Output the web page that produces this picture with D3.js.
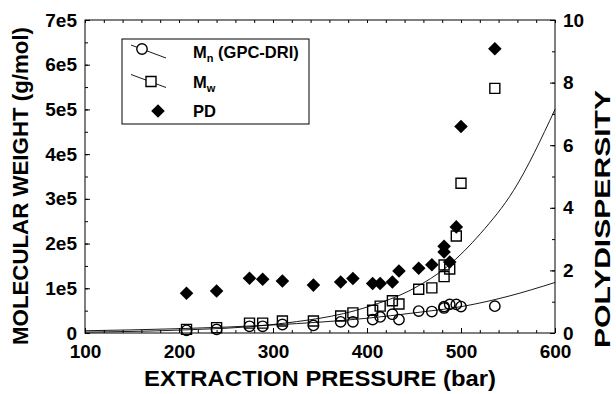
<!DOCTYPE html>
<html>
<head>
	<meta charset="utf-8">
	<title>Molecular weight vs extraction pressure</title>
	<style type="text/css">
		body {
			margin: 0;
			background: #fff;
		}
		svg text {
			font-family: "Liberation Sans", Arial, Helvetica, sans-serif;
			font-weight: bold;
			fill: #000;
		}
		.tick line, .frame {
			stroke: #000;
		}
	</style>
</head>
<body>
<svg id="chart"></svg>
<script src="https://d3js.org/d3.v7.min.js"></script>
<script type="text/javascript">

	// measured points (pressure in bar, MW in g/mol)
	var pressure = [208, 240, 275, 289, 310, 343, 372, 385, 406, 414, 427, 434, 455, 469, 482, 482, 488, 495, 500, 536];
	var mw = [8000, 12000, 22000, 22000, 27000, 27000, 38000, 45000, 51000, 60000, 72000, 65000, 98000, 101000, 152000, 126000, 143000, 217000, 335000, 547000];
	var mn = [6000, 8000, 15000, 15000, 19000, 17000, 25000, 25000, 30000, 36000, 42000, 30000, 49000, 48000, 56000, 59000, 64000, 64000, 59000, 60000];
	var pd = [1.27, 1.34, 1.75, 1.72, 1.66, 1.53, 1.63, 1.74, 1.58, 1.58, 1.63, 1.98, 2.07, 2.18, 2.77, 2.59, 2.27, 3.39, 6.6, 9.08];

	// fitted curves
	var mwFitP = [100, 200, 300, 400, 450, 485, 521, 556, 600];
	var mwFitV = [2000, 6500, 19000, 58000, 100000, 148000, 223000, 319000, 500000];
	var mnFitP = [100, 200, 300, 400, 450, 503, 550, 600];
	var mnFitV = [5000, 9700, 18000, 33000, 45000, 60000, 82000, 113000];

	var xTicks = [100, 200, 300, 400, 500, 600];
	var leftTicks = [0, 100000, 200000, 300000, 400000, 500000, 600000, 700000];
	var leftLabels = ["0", "1e5", "2e5", "3e5", "4e5", "5e5", "6e5", "7e5"];
	var rightTicks = [0, 2, 4, 6, 8, 10];

	var legendItems = [
		{name: "M", sub: "n", rest: " (GPC-DRI)", type: "circle"},
		{name: "M", sub: "w", rest: "", type: "square"},
		{name: "PD", sub: "", rest: "", type: "diamond"}
	];

	var W = 616, H = 394;
	var margin = {top: 20, right: 61, bottom: 61, left: 85};

	var svg = d3.select("#chart")
		.attr("width", W)
		.attr("height", H);

	var x = d3.scaleLinear().domain([100, 600]).range([margin.left, W - margin.right]);
	var yL = d3.scaleLinear().domain([0, 700000]).range([H - margin.bottom, margin.top]);
	var yR = d3.scaleLinear().domain([0, 10]).range([H - margin.bottom, margin.top]);

	var x0 = x.range()[0], x1 = x.range()[1], y0 = yL.range()[0], y1 = yL.range()[1];

	// minor ticks
	var minorX = d3.range(100, 601, 20);
	var minorL = d3.range(0, 700001, 50000);
	var minorR = d3.range(0, 11, 1);

	svg.append("g").attr("transform", "translate(0," + y0 + ")")
		.call(d3.axisBottom(x).tickValues(minorX).tickSize(-3).tickFormat(""));
	svg.append("g").attr("transform", "translate(0," + y1 + ")")
		.call(d3.axisTop(x).tickValues(minorX).tickSize(-3).tickFormat(""));
	svg.append("g").attr("transform", "translate(" + x0 + ",0)")
		.call(d3.axisLeft(yL).tickValues(minorL).tickSize(-3).tickFormat(""));
	svg.append("g").attr("transform", "translate(" + x1 + ",0)")
		.call(d3.axisRight(yR).tickValues(minorR).tickSize(-3).tickFormat(""));

	// major ticks with labels
	svg.append("g").attr("class", "xaxis").attr("transform", "translate(0," + y0 + ")")
		.call(d3.axisBottom(x).tickValues(xTicks).tickSize(-5).tickPadding(12).tickFormat(d3.format("d")));
	svg.append("g").attr("class", "laxis").attr("transform", "translate(" + x0 + ",0)")
		.call(d3.axisLeft(yL).tickValues(leftTicks).tickSize(-5).tickPadding(8)
			.tickFormat(function(d, i) { return leftLabels[i]; }));
	svg.append("g").attr("class", "raxis").attr("transform", "translate(" + x1 + ",0)")
		.call(d3.axisRight(yR).tickValues(rightTicks).tickSize(-5).tickPadding(8).tickFormat(d3.format("d")));

	svg.selectAll(".domain").remove();
	svg.selectAll(".tick text").style("font-size", "19px").style("font-family", null);

	// frame
	svg.append("rect").attr("class", "frame")
		.attr("x", x0).attr("y", y1)
		.attr("width", x1 - x0).attr("height", y0 - y1)
		.attr("fill", "none").attr("stroke-width", 1);

	// fit curves
	var line = d3.line().curve(d3.curveMonotoneX)
		.x(function(d) { return x(d[0]); })
		.y(function(d) { return yL(d[1]); });

	svg.append("path").datum(d3.zip(mwFitP, mwFitV))
		.attr("d", line).attr("fill", "none").attr("stroke", "#000").attr("stroke-width", 0.9);
	svg.append("path").datum(d3.zip(mnFitP, mnFitV))
		.attr("d", line).attr("fill", "none").attr("stroke", "#000").attr("stroke-width", 0.9);

	var pts = pressure.map(function(p, i) { return {p: p, mw: mw[i], mn: mn[i], pd: pd[i]}; });

	var squareSym = d3.symbol().type(d3.symbolSquare).size(100);
	var diamondSym = d3.symbol().type(d3.symbolSquare).size(92);

	svg.append("g").selectAll("path")
		.data(pts)
		.enter().append("path")
		.attr("d", squareSym)
		.attr("transform", function(d) { return "translate(" + x(d.p) + "," + yL(d.mw) + ")"; })
		.attr("fill", "none").attr("stroke", "#000").attr("stroke-width", 1.4);

	svg.append("g").selectAll("circle")
		.data(pts)
		.enter().append("circle")
		.attr("cx", function(d) { return x(d.p); })
		.attr("cy", function(d) { return yL(d.mn); })
		.attr("r", 5.2)
		.attr("fill", "none").attr("stroke", "#000").attr("stroke-width", 1.4);

	svg.append("g").selectAll("path")
		.data(pts)
		.enter().append("path")
		.attr("d", diamondSym)
		.attr("transform", function(d) { return "translate(" + x(d.p) + "," + yR(d.pd) + ") rotate(45)"; })
		.attr("fill", "#000");

	// legend
	var lg = svg.append("g").attr("class", "legend");
	lg.append("rect")
		.attr("x", 122).attr("y", 39).attr("width", 187).attr("height", 85)
		.attr("fill", "#fff").attr("stroke", "#000").attr("stroke-width", 1);

	var row = lg.selectAll("g.row")
		.data(legendItems)
		.enter().append("g").attr("class", "row")
		.attr("transform", function(d, i) { return "translate(0," + (53 + i * 29.5) + ")"; });

	row.filter(function(d) { return d.type != "diamond"; })
		.append("line")
		.attr("x1", 131).attr("y1", -8).attr("x2", 166).attr("y2", 5)
		.attr("stroke", "#000").attr("stroke-width", 0.9);

	row.filter(function(d) { return d.type == "circle"; })
		.append("circle").attr("cx", 142).attr("cy", -4).attr("r", 5.2)
		.attr("fill", "#fff").attr("stroke", "#000").attr("stroke-width", 1.4);
	row.filter(function(d) { return d.type == "square"; })
		.append("path").attr("d", squareSym)
		.attr("transform", "translate(151,-1)")
		.attr("fill", "#fff").attr("stroke", "#000").attr("stroke-width", 1.4);
	row.filter(function(d) { return d.type == "diamond"; })
		.append("path").attr("d", diamondSym)
		.attr("transform", "translate(158,-1) rotate(45)")
		.attr("fill", "#000");

	var lt = row.append("text")
		.attr("x", 193).attr("y", 5)
		.style("font-size", "16.5px");
	lt.append("tspan").text(function(d) { return d.name; });
	lt.append("tspan").attr("dy", 4).style("font-size", "11px").text(function(d) { return d.sub; });
	lt.append("tspan").attr("dy", -4).text(function(d) { return d.rest; });

	// axis titles
	svg.append("text")
		.attr("x", 320).attr("y", 386)
		.attr("text-anchor", "middle")
		.attr("textLength", 352).attr("lengthAdjust", "spacingAndGlyphs")
		.style("font-size", "22px")
		.text("EXTRACTION PRESSURE (bar)");

	svg.append("text")
		.attr("transform", "translate(28," + 186 + ") rotate(-90)")
		.attr("text-anchor", "middle")
		.attr("textLength", 318).attr("lengthAdjust", "spacingAndGlyphs")
		.style("font-size", "22px")
		.text("MOLECULAR WEIGHT (g/mol)");

	svg.append("text")
		.attr("transform", "translate(610," + 219 + ") rotate(-90)")
		.attr("text-anchor", "middle")
		.attr("textLength", 258).attr("lengthAdjust", "spacingAndGlyphs")
		.style("font-size", "22px")
		.text("POLYDISPERSITY");

</script>
</body>
</html>
